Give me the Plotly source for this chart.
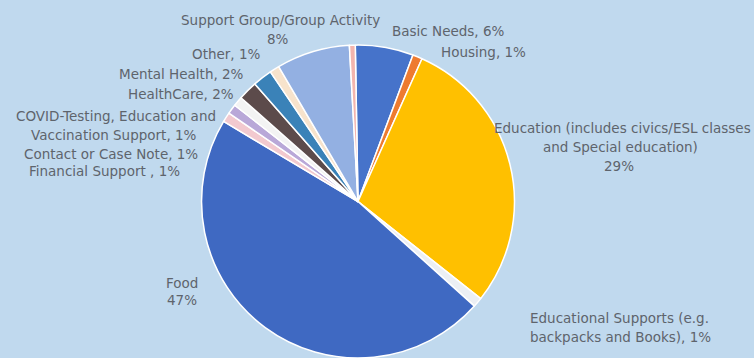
import plotly.graph_objects as go

# ---- data ----
categories = [
    "Basic Needs", "Housing",
    "Education (includes civics/ESL classes and Special education)",
    "Educational Supports (e.g. backpacks and Books)", "Food",
    "Financial Support ", "Contact or Case Note",
    "COVID-Testing, Education and Vaccination Support", "HealthCare",
    "Mental Health", "Other", "Support Group/Group Activity", "(unlabeled)",
]
values = [6, 1, 29, 1, 47, 1, 1, 1, 2, 2, 1, 7.6, 0.6]
pct_labels = ["6%", "1%", "29%", "1%", "47%", "1%", "1%", "1%", "2%", "2%", "1%", "8%", ""]

colors = ["#4673CA", "#EE7B30", "#FFC000", "#ECEFF4", "#3F69C2",
          "#F2C9CF", "#B9A8D8", "#F3F3F3", "#5C4B4B",
          "#3A82B8", "#F7E3CC", "#93B0E2", "#F3B5AE"]

# label text lines and their placement (pixel centre)
label_lines = [
    ("Basic Needs, 6%", 448, 31),
    ("Housing, 1%", 484, 52),
    ("Education (includes civics/ESL classes", 622, 128),
    ("and Special education)", 620, 147),
    ("29%", 619, 166),
    ("Educational Supports (e.g.", 619, 318),
    ("backpacks and Books), 1%", 620, 337),
    ("Food", 182, 283),
    ("47%", 182, 300),
    ("Financial Support , 1%", 104, 171),
    ("Contact or Case Note, 1%", 111, 154),
    ("COVID-Testing, Education and", 116, 116),
    ("Vaccination Support, 1%", 114, 135),
    ("HealthCare, 2%", 181, 94),
    ("Mental Health, 2%", 181, 74),
    ("Other, 1%", 226, 54),
    ("Support Group/Group Activity", 280, 20),
    ("8%", 278, 39),
]

W, H = 754, 358
BG = "#C0D9EE"

fig = go.Figure(go.Pie(
    labels=categories,
    values=values,
    sort=False,
    direction="clockwise",
    rotation=-1,
    marker=dict(colors=colors, line=dict(color="#FFFFFF", width=1.5)),
    textinfo="none",
    hoverinfo="label+percent",
    domain=dict(x=[201.5 / W, 514.5 / W], y=[0.0, 0.874]),
    showlegend=False,
))

for txt, px, py in label_lines:
    fig.add_annotation(
        text=txt, x=px / W, y=1 - py / H, xref="paper", yref="paper",
        xanchor="center", yanchor="middle", showarrow=False,
        font=dict(family="DejaVu Sans", size=13.5, color="#5E646C"),
    )

fig.update_layout(
    width=W, height=H,
    margin=dict(l=0, r=0, t=0, b=0),
    paper_bgcolor=BG, plot_bgcolor=BG,
)

fig.write_html(
    "out.html",
    config={"displayModeBar": False},
    post_script="document.body.style.margin='0';document.body.style.background='%s';" % BG,
)
